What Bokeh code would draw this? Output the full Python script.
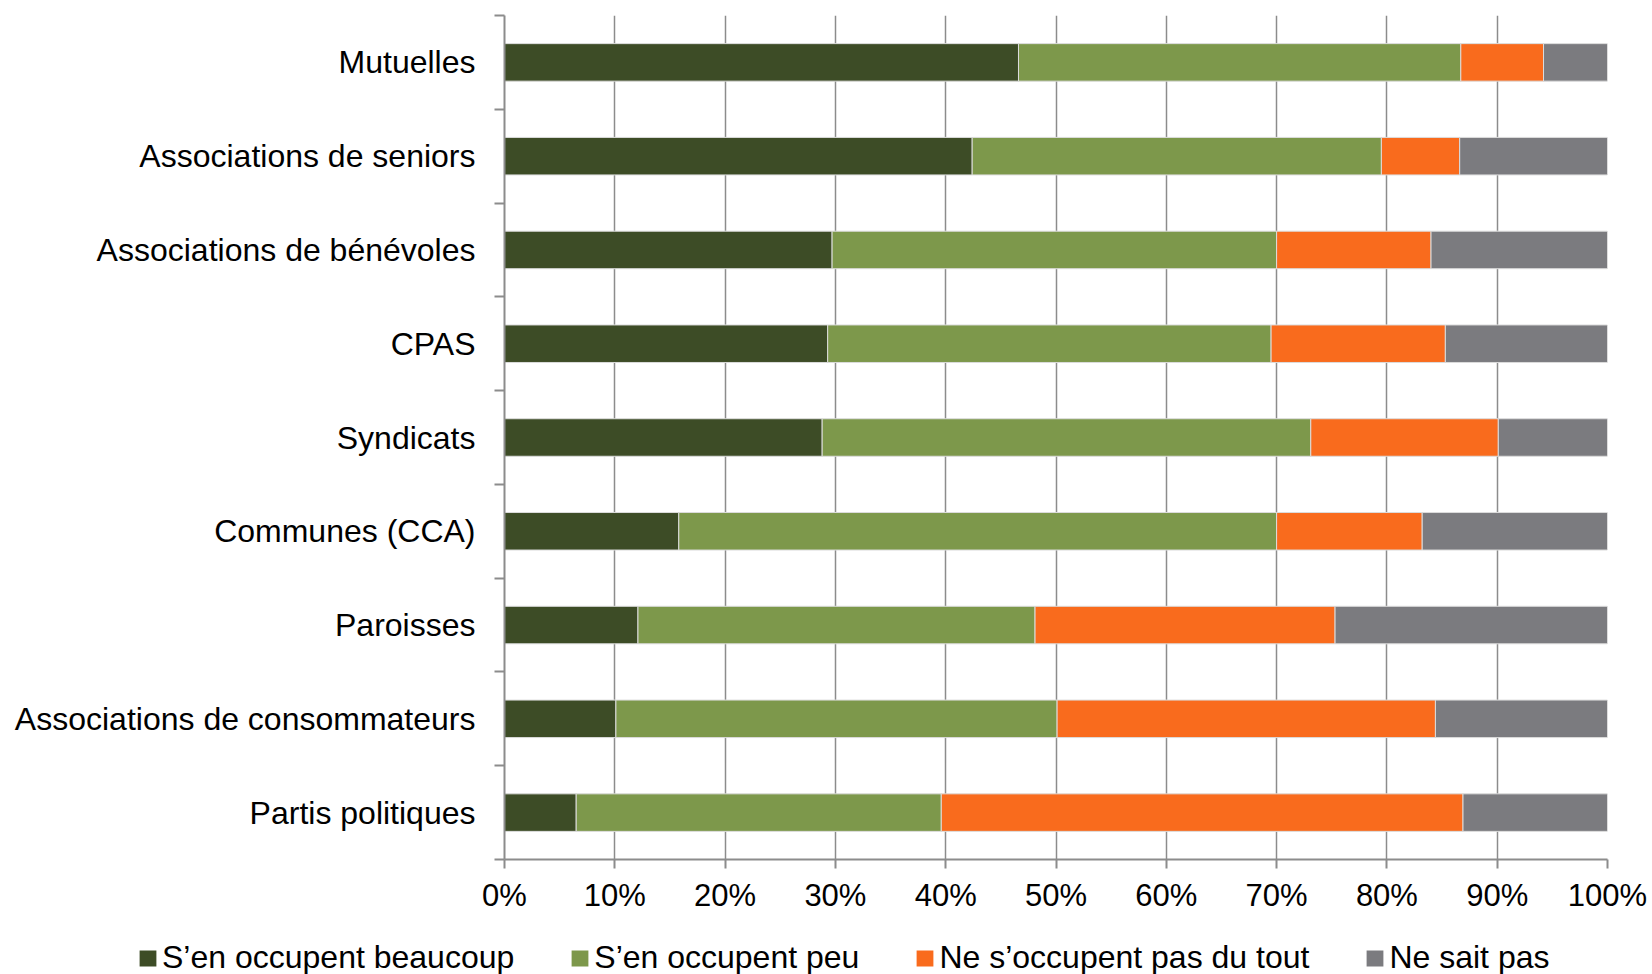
from bokeh.plotting import figure
from bokeh.models import ColumnDataSource, Range1d, FixedTicker, Legend, LegendItem
from bokeh.embed import file_html
from bokeh.resources import INLINE

categories = ["Mutuelles", "Associations de seniors", "Associations de bénévoles", "CPAS",
              "Syndicats", "Communes (CCA)", "Paroisses", "Associations de consommateurs",
              "Partis politiques"]
beaucoup = [46.6, 42.4, 29.7, 29.3, 28.8, 15.8, 12.1, 10.1, 6.5]
peu = [40.1, 37.1, 40.3, 40.2, 44.3, 54.2, 36.0, 40.0, 33.1]
pas_du_tout = [7.5, 7.1, 14.0, 15.8, 17.0, 13.2, 27.2, 34.3, 47.3]
ne_sait_pas = [5.8, 13.4, 16.0, 14.7, 9.9, 16.8, 24.7, 15.6, 13.1]
series_labels = ["S’en occupent beaucoup", "S’en occupent peu",
                 "Ne s’occupent pas du tout", "Ne sait pas"]
x_ticks = [0, 10, 20, 30, 40, 50, 60, 70, 80, 90, 100]
x_tick_labels = ["0%", "10%", "20%", "30%", "40%", "50%", "60%", "70%", "80%", "90%", "100%"]
colors = ["#3D4C26", "#7D984B", "#F96B1D", "#7B7B7F"]

n = len(categories)
centers = [i + 0.5 for i in range(n)]
bounds = [float(i) for i in range(n + 1)]
keys = ["beaucoup", "peu", "pas_du_tout", "ne_sait_pas"]
src = ColumnDataSource(dict(y=centers, cat=categories, beaucoup=beaucoup, peu=peu,
                            pas_du_tout=pas_du_tout, ne_sait_pas=ne_sait_pas))

W = 1650
H1 = 915
H2 = 59

p = figure(width=W, height=H1, output_backend="svg", toolbar_location=None,
           x_range=Range1d(0, 100), y_range=Range1d(n, 0),
           min_border_left=504, min_border_right=43, min_border_top=15,
           min_border_bottom=H1 - 859)
p.outline_line_color = None
p.background_fill_color = "white"

renderers = p.hbar_stack(keys, y="y", height=0.4, color=colors, source=src,
                         line_color="#dcdcdc", line_width=1)

FONT = "Liberation Sans"
GRID = "#8c8c8c"

xt = FixedTicker(ticks=x_ticks)
p.xaxis.ticker = xt
p.xaxis.major_label_overrides = {t: l for t, l in zip(x_ticks, x_tick_labels)}
p.xaxis.major_label_text_font = FONT
p.xaxis.major_label_text_font_size = "31px"
p.xaxis.major_label_text_color = "black"
p.xaxis.major_tick_out = 9
p.xaxis.major_tick_in = 0
p.xaxis.minor_tick_line_color = None
p.xaxis.axis_line_color = GRID
p.xaxis.axis_line_width = 2
p.xaxis.major_tick_line_color = GRID
p.xaxis.major_tick_line_width = 2
p.xaxis.major_label_standoff = 9

p.yaxis.ticker = FixedTicker(ticks=centers, minor_ticks=bounds)
p.yaxis.major_label_overrides = {c: l for c, l in zip(centers, categories)}
p.yaxis.major_label_text_font = FONT
p.yaxis.major_label_text_font_size = "32px"
p.yaxis.major_label_text_color = "black"
p.yaxis.major_tick_out = 0
p.yaxis.major_tick_in = 0
p.yaxis.major_tick_line_color = None
p.yaxis.minor_tick_out = 10
p.yaxis.minor_tick_in = 0
p.yaxis.minor_tick_line_color = GRID
p.yaxis.minor_tick_line_width = 2
p.yaxis.axis_line_color = GRID
p.yaxis.axis_line_width = 2
p.yaxis.major_label_standoff = 19

p.ygrid.visible = False
p.xgrid.ticker = xt
p.xgrid.grid_line_color = GRID
p.xgrid.grid_line_width = 1.5

# legend strip below the chart (same source; bars fall outside this strip's ranges)
lp = figure(width=W, height=H2, output_backend="svg", toolbar_location=None,
            x_axis_location=None, y_axis_location=None,
            x_range=Range1d(200, 300), y_range=Range1d(100, 101),
            min_border_left=0, min_border_right=0, min_border_top=0, min_border_bottom=0)
lp.outline_line_color = None
lp.xgrid.visible = False
lp.ygrid.visible = False
lrends = lp.hbar_stack(keys, y="y", height=0.4, color=colors, source=src,
                       line_color=None)
legend = Legend(items=[LegendItem(label=l, renderers=[r]) for l, r in zip(series_labels, lrends)],
                orientation="horizontal", location=(137, -2),
                glyph_width=21, glyph_height=20, label_standoff=4, spacing=55,
                padding=0, margin=0, border_line_color=None, background_fill_alpha=0,
                label_text_font=FONT, label_text_font_size="32px", label_text_color="black")
lp.add_layout(legend, "center")

open("out.html", "w").write(file_html([p, lp], INLINE))
